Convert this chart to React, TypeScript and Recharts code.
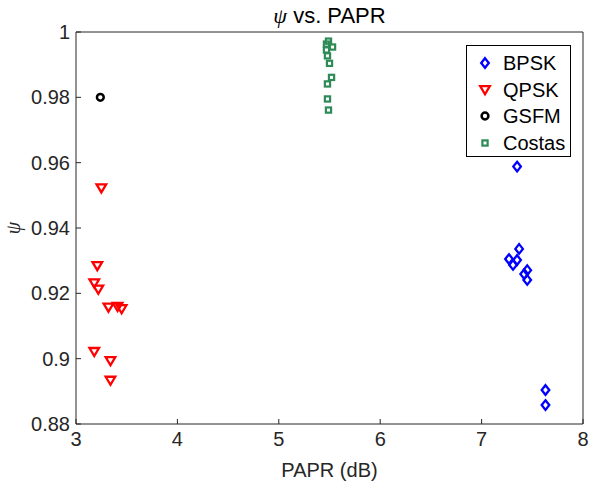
import { ScatterChart, Scatter, XAxis, YAxis, Legend } from 'recharts';

const xTicks = [3, 4, 5, 6, 7, 8];
const yTicks = [0.88, 0.9, 0.92, 0.94, 0.96, 0.98, 1];

const bpskPapr = [7.35, 7.37, 7.27, 7.35, 7.31, 7.45, 7.42, 7.45, 7.63, 7.63];
const bpskPsi = [0.9588, 0.9336, 0.9305, 0.9302, 0.9287, 0.9271, 0.9259, 0.9241, 0.8904, 0.8858];

const qpskPapr = [3.25, 3.21, 3.18, 3.22, 3.32, 3.41, 3.45, 3.18, 3.34, 3.34];
const qpskPsi = [0.9522, 0.9284, 0.9231, 0.9212, 0.9157, 0.9159, 0.9152, 0.9021, 0.8993, 0.8933];

const gsfmPapr = [3.24];
const gsfmPsi = [0.98];

const costasPapr = [5.49, 5.47, 5.53, 5.47, 5.48, 5.5, 5.52, 5.48, 5.48, 5.49];
const costasPsi = [0.9972, 0.9963, 0.9954, 0.9945, 0.9927, 0.9904, 0.9861, 0.9841, 0.9795, 0.9761];

const toPoints = (xs: number[], ys: number[]) => xs.map((x, i) => ({ papr: x, psi: ys[i] }));

type Kind = 'diamond' | 'triangle' | 'circle' | 'square';

const series: { name: string; color: string; kind: Kind; data: { papr: number; psi: number }[] }[] = [
  { name: 'BPSK', color: '#0000FF', kind: 'diamond', data: toPoints(bpskPapr, bpskPsi) },
  { name: 'QPSK', color: '#FF0000', kind: 'triangle', data: toPoints(qpskPapr, qpskPsi) },
  { name: 'GSFM', color: '#000000', kind: 'circle', data: toPoints(gsfmPapr, gsfmPsi) },
  { name: 'Costas', color: '#2E8B57', kind: 'square', data: toPoints(costasPapr, costasPsi) },
];

const FONT = '"Liberation Sans", Arial, Helvetica, sans-serif';
const AXIS = '#262626';

function Marker({ kind, cx, cy, color }: { kind: Kind; cx: number; cy: number; color: string }) {
  if (kind === 'diamond')
    return <polygon points={`${cx},${cy - 4.8} ${cx + 3.8},${cy} ${cx},${cy + 4.8} ${cx - 3.8},${cy}`} fill="none" stroke={color} strokeWidth={2.3} />;
  if (kind === 'triangle')
    return <polygon points={`${cx - 4.8},${cy - 3.8} ${cx + 4.8},${cy - 3.8} ${cx},${cy + 4.3}`} fill="none" stroke={color} strokeWidth={2.3} />;
  if (kind === 'circle') return <circle cx={cx} cy={cy} r={3.4} fill="none" stroke={color} strokeWidth={2.5} />;
  return <rect x={cx - 2.6} y={cy - 2.6} width={5.2} height={5.2} fill="none" stroke={color} strokeWidth={2.2} />;
}

function LegendBox() {
  return (
    <div style={{ width: 105, height: 112, boxSizing: 'border-box', border: '1px solid #000', background: '#fff', paddingTop: 4, fontFamily: FONT, fontSize: 20, color: '#000' }}>
      {series.map((s) => (
        <div key={s.name} style={{ display: 'flex', alignItems: 'center', height: 26.6 }}>
          <svg width={36} height={20} style={{ flex: 'none' }}>
            <Marker kind={s.kind} cx={18} cy={10} color={s.color} />
          </svg>
          <span style={{ lineHeight: '20px' }}>{s.name}</span>
        </div>
      ))}
    </div>
  );
}

export default function App() {
  return (
    <div style={{ position: 'absolute', left: 0, top: 0, width: 589, height: 489, background: '#fff' }}>
      <ScatterChart width={589} height={489} margin={{ top: 31, right: 5, bottom: 0, left: 0 }} style={{ fontFamily: FONT }}>
        <XAxis
          dataKey="papr"
          type="number"
          domain={[3, 8]}
          ticks={xTicks}
          height={65}
          stroke={AXIS}
          tickSize={-5}
          tickMargin={13}
          tick={{ fontSize: 20, fill: AXIS }}
          label={{
            content: ({ viewBox }: any) => (
              <text x={viewBox.x + viewBox.width / 2} y={470} textAnchor="middle" dominantBaseline="central" fontSize={20} fill={AXIS} fontFamily={FONT}>
                PAPR (dB)
              </text>
            ),
          }}
        />
        <XAxis
          xAxisId="top"
          orientation="top"
          type="number"
          domain={[3, 8]}
          ticks={xTicks}
          height={1}
          stroke={AXIS}
          tickSize={-5}
          tick={false}
          label={{
            content: ({ viewBox }: any) => (
              <text x={viewBox.x + viewBox.width / 2} y={15} textAnchor="middle" dominantBaseline="central" fontSize={22} fill="#000" fontFamily={FONT}>
                <tspan fontStyle="italic" fontFamily='"Liberation Serif", serif'>ψ</tspan> vs. PAPR
              </text>
            ),
          }}
        />
        <YAxis
          dataKey="psi"
          type="number"
          domain={[0.88, 1]}
          ticks={yTicks}
          width={76}
          stroke={AXIS}
          tickSize={-5}
          tickMargin={11}
          tick={{ fontSize: 20, fill: AXIS }}
          label={{
            content: () => (
              <text x={13} y={228} transform="rotate(-90 13 228)" textAnchor="middle" dominantBaseline="central" fontSize={20} fill={AXIS} fontStyle="italic" fontFamily='"Liberation Serif", serif'>
                ψ
              </text>
            ),
          }}
        />
        <YAxis yAxisId="right" orientation="right" type="number" domain={[0.88, 1]} ticks={yTicks} width={1} stroke={AXIS} tickSize={-5} tick={false} />
        <Legend layout="vertical" align="center" verticalAlign="middle" wrapperStyle={{ left: 466, top: 45, width: 105, height: 112 }} content={() => <LegendBox />} />
        {series.map((s) => (
          <Scatter
            key={s.name}
            name={s.name}
            data={s.data}
            isAnimationActive={false}
            shape={(p: any) => <Marker kind={s.kind} cx={p.cx} cy={p.cy} color={s.color} />}
          />
        ))}
      </ScatterChart>
    </div>
  );
}
